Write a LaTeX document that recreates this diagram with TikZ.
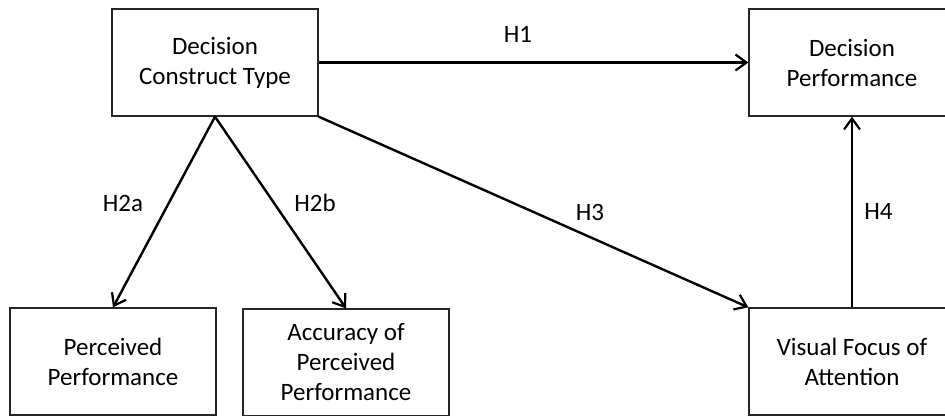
\documentclass[tikz,border=0pt]{standalone}
\usepackage{fontspec}
\setmainfont{Carlito}
\usetikzlibrary{arrows.meta}
\begin{document}
\begin{tikzpicture}[x=1pt,y=-1pt,
  box/.style={draw=black!85, line width=1.3pt, minimum width=206pt, minimum height=107pt,
    inner sep=0pt, align=center, font=\fontsize{25}{30}\selectfont},
  hyp/.style={inner sep=0pt, font=\fontsize{25}{30}\selectfont},
  link/.style={line width=2.4pt, -{Straight Barb[length=11pt,width=16pt,line width=2.2pt]}}]
\useasboundingbox[fill=white] (0,0) rectangle (945,415);
\node[box] (dct) at (215,62.5) {Decision\\Construct Type};
\node[box] (dp) at (852,62.5) {Decision\\Performance};
\node[box] (pp) at (113,361.5) {Perceived\\Performance};
\node[box] (acc) at (346,362.5) {Accuracy of\\Perceived\\Performance};
\node[box] (vfa) at (852,361.5) {Visual Focus of\\Attention};
\draw[link] (dct.east) -- (dp.west);
\draw[link] (dct.south) -- (pp.north);
\draw[link] (dct.south) -- (acc.north);
\draw[link] (dct.south east) -- (vfa.north west);
\draw[link] (vfa.north) -- (dp.south);
\node[hyp] (h1) at (518,34) {H1};
\node[hyp] (h2a) at (123,203) {H2a};
\node[hyp] (h2b) at (315,203) {H2b};
\node[hyp] (h3) at (590,212.5) {H3};
\node[hyp] (h4) at (878.5,211) {H4};
\end{tikzpicture}
\end{document}
